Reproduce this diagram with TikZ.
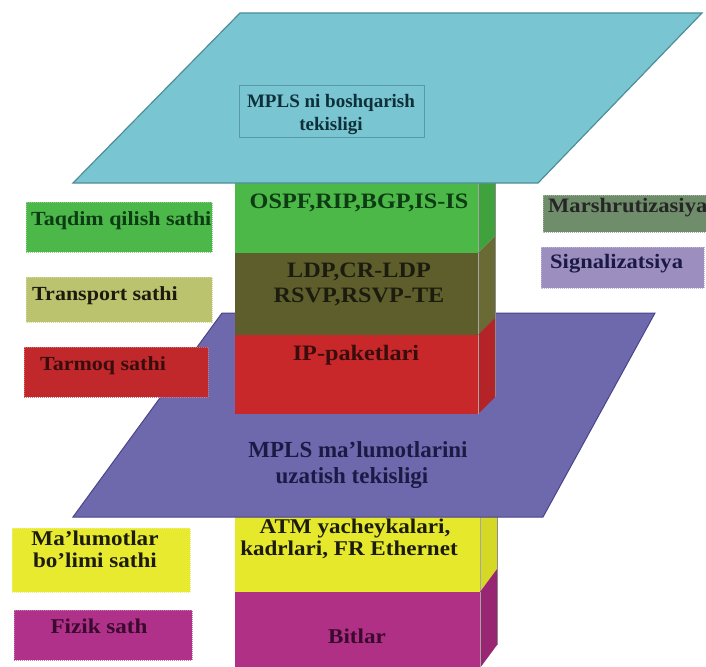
\documentclass[tikz,border=0pt]{standalone}
\usepackage{fontspec}
\setmainfont{Liberation Serif}
\newfontfamily\wideserif{Liberation Serif}[FakeStretch=1.1]

% plane colours
\definecolor{ctrlFill}{HTML}{7AC5D2}
\definecolor{ctrlLine}{HTML}{4E8E99}
\definecolor{ctrlText}{HTML}{0E3038}
\definecolor{dataFill}{HTML}{6E68AD}
\definecolor{dataLine}{HTML}{4A448A}
\definecolor{dataText}{HTML}{1B1A45}
% protocol stack colours (front face F, side face S)
\definecolor{greenF}{HTML}{4CB847}
\definecolor{greenS}{HTML}{40A23C}
\definecolor{oliveF}{HTML}{5E5E2C}
\definecolor{oliveS}{HTML}{6A6A34}
\definecolor{redF}{HTML}{C9282B}
\definecolor{redS}{HTML}{B32327}
\definecolor{yellowF}{HTML}{E6E82C}
\definecolor{yellowS}{HTML}{D6D826}
\definecolor{magF}{HTML}{B03086}
\definecolor{magS}{HTML}{982672}
% layer label boxes
\definecolor{taqdimC}{HTML}{4DB84A}
\definecolor{transportC}{HTML}{BCC36F}
\definecolor{tarmoqC}{HTML}{C0282B}
\definecolor{marshC}{HTML}{6F8D6A}
\definecolor{signalC}{HTML}{9C8EBE}
\definecolor{malumC}{HTML}{E8EA30}
\definecolor{fizikC}{HTML}{B03189}
% text colours
\definecolor{darkGreen}{HTML}{0D3B14}
\definecolor{darkRed}{HTML}{3A0D0D}
\definecolor{darkPlum}{HTML}{3A0A2E}
\definecolor{darkOlive}{HTML}{1C1C0E}

% one slab of the protocol stack: front face plus a bevelled right side
% #1 right x of front, #2 top y, #3 bottom y, #4 colour stem, #5 side rise
\newcommand\stackslab[5]{%
  \path[fill=#4F] (235,#2) rectangle (#1,#3);
  \path[fill=#4S] (#1,#2) -- (#1+17,#2-#5) -- (#1+17,#3-#5) -- (#1,#3) -- cycle;
  \draw[black!35, line width=0.5pt] (#1,#2) -- (#1,#3);
  \draw[black!45, line width=0.7pt] (#1+17,#2-#5) -- (#1+17,#3-#5);
}

\begin{document}
\begin{tikzpicture}[x=1pt,y=-1pt,
  lbl/.style={font=\wideserif\bfseries\fontsize{20}{22}\selectfont, inner sep=0pt, anchor=base},
  lblw/.style={lbl, anchor=base west},
  stacktxt/.style={lbl, font=\wideserif\bfseries\fontsize{22}{24}\selectfont},
  lowtxt/.style={lbl, font=\wideserif\bfseries\fontsize{21}{23}\selectfont},
  ctrltxt/.style={lbl, font=\bfseries\fontsize{19}{22}\selectfont},
  layerbox/.style={fill=#1, draw=#1!65!white, densely dotted, line width=1pt},
]
\useasboundingbox (0,0) rectangle (706,666);
\fill[white] (0,0) rectangle (706,666);

% lower stack (link and physical layers), behind the data plane
\stackslab{480}{517}{592}{yellow}{23}
\stackslab{480}{592}{668}{mag}{23}

% MPLS data plane
\draw[fill=dataFill, draw=dataLine, line width=1pt]
  (222,313) -- (655,313) -- (543,517) -- (73,517) -- cycle;

% upper stack (routing, signalling, IP)
\stackslab{478}{183}{253}{green}{17}
\stackslab{478}{253}{335}{olive}{17}
\stackslab{478}{335}{414}{red}{17}

% MPLS control plane
\draw[fill=ctrlFill, draw=ctrlLine, line width=1.2pt]
  (240,13) -- (702,13) -- (538,183) -- (73,183) -- cycle;
\draw[ctrlLine!80!ctrlFill, line width=0.6pt] (239,85) rectangle (424,137);

% text on the planes and the stack
\node[ctrltxt, text=ctrlText] (ctrlA) at (331,107) {MPLS ni boshqarish};
\node[ctrltxt, text=ctrlText] (ctrlB) at (331,130) {tekisligi};
\node[stacktxt, text=darkGreen] (ospf) at (359,208) {OSPF,RIP,BGP,IS-IS};
\node[stacktxt, text=darkOlive] (ldpA) at (359,277) {LDP,CR-LDP};
\node[stacktxt, text=darkOlive] (ldpB) at (359,302) {RSVP,RSVP-TE};
\node[stacktxt, text=darkRed] (ip) at (356,360) {IP-paketlari};
\node[lbl, text=dataText, font=\bfseries\fontsize{23}{26}\selectfont] (dataA) at (358,457) {MPLS ma’lumotlarini};
\node[lbl, text=dataText, font=\bfseries\fontsize{23}{26}\selectfont] (dataB) at (352,483) {uzatish tekisligi};
\node[lowtxt, text=darkOlive] (atmA) at (355,533) {ATM yacheykalari,};
\node[lowtxt, text=darkOlive] (atmB) at (349,555) {kadrlari, FR Ethernet};
\node[lowtxt, text=darkPlum] (bit) at (357,643) {Bitlar};

% layer name boxes on the left
\path[layerbox=taqdimC] (26,202) rectangle (212,252);
\node[lblw, text=darkGreen] (taqdim) at (31,225) {Taqdim qilish sathi};
\path[layerbox=transportC] (26,277) rectangle (212,322);
\node[lblw, text=darkOlive] (transport) at (32,300) {Transport sathi};
\path[layerbox=tarmoqC] (24,347) rectangle (208,397);
\node[lblw, text=darkRed] (tarmoq) at (40,370) {Tarmoq sathi};
\path[layerbox=malumC] (12,528) rectangle (190,592);
\node[lowtxt, text=darkOlive] (malumA) at (95,545) {Ma’lumotlar};
\node[lowtxt, text=darkOlive] (malumB) at (95,567) {bo’limi sathi};
\path[layerbox=fizikC] (14,610) rectangle (192,660);
\node[lowtxt, text=darkPlum] (fizik) at (99,633) {Fizik sath};

% function boxes on the right
\path[layerbox=marshC] (543,195) rectangle (707,232);
\node[lblw, text=black!85, font=\wideserif\bfseries\fontsize{20.5}{22}\selectfont] (marsh) at (548,212) {Marshrutizasiya};
\path[layerbox=signalC] (541,247) rectangle (704,288);
\node[lblw, text=dataText, font=\wideserif\bfseries\fontsize{20.5}{22}\selectfont] (signal) at (550,268) {Signalizatsiya};
\end{tikzpicture}
\end{document}
